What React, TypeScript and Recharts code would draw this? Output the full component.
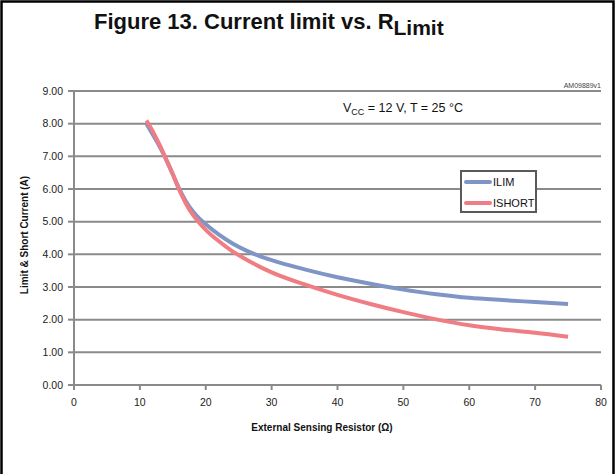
import React from 'react';
import { LineChart, Line, XAxis, YAxis, CartesianGrid } from 'recharts';

// values (x in ohm, y in A)
const resistor = [11, 12, 13, 14, 15, 16, 17, 18, 19, 20, 22, 24, 26, 28, 30, 35, 40, 45, 50, 55, 60, 65, 70, 75];
const ilim = [8.0, 7.65, 7.3, 6.9, 6.45, 6.0, 5.62, 5.33, 5.1, 4.92, 4.6, 4.34, 4.13, 3.96, 3.82, 3.54, 3.3, 3.1, 2.92, 2.78, 2.67, 2.6, 2.54, 2.48];
const ishort = [8.1, 7.75, 7.35, 6.9, 6.45, 5.96, 5.55, 5.22, 4.97, 4.75, 4.4, 4.1, 3.86, 3.64, 3.45, 3.08, 2.76, 2.48, 2.23, 2.01, 1.83, 1.7, 1.6, 1.48];
const xTicks = [0, 10, 20, 30, 40, 50, 60, 70, 80];
const yTicks = [0, 1, 2, 3, 4, 5, 6, 7, 8, 9];
const seriesNames = ['ILIM', 'ISHORT'];

const data = resistor.map((r, i) => ({ r, ILIM: ilim[i], ISHORT: ishort[i] }));

const BLUE = '#7f95c5';
const RED = '#f07d84';
const GRID = '#8a8a8a';
const FONT = '"Liberation Sans", Arial, sans-serif';
const colors = [BLUE, RED];

// little boxed legend sitting inside the plot
const LegendBox = () => (
  <div
    style={{
      position: 'absolute',
      left: 460,
      top: 170,
      width: 77,
      height: 43,
      border: '2px solid #5a5a5a',
      background: '#fff',
      fontFamily: FONT,
      fontSize: 11,
      color: '#111',
      boxSizing: 'border-box',
    }}
  >
    {seriesNames.map((name, i) => (
      <div key={name} style={{ position: 'absolute', left: 2, top: 3 + i * 21, display: 'flex', alignItems: 'center', height: 13 }}>
        <span style={{ display: 'inline-block', width: 28, height: 4, borderRadius: 2, background: colors[i] }} />
        <span style={{ marginLeft: 1 }}>{name}</span>
      </div>
    ))}
  </div>
);

export default function App() {
  return (
    <div style={{ position: 'absolute', left: 0, top: 0, width: 615, height: 474, background: '#fff' }}>
      <LineChart width={615} height={474} data={data} margin={{ top: 91, right: 14, bottom: 0, left: 0 }}>
        <CartesianGrid vertical={false} stroke={GRID} strokeWidth={2} />
        <XAxis
          dataKey="r"
          type="number"
          domain={[0, 80]}
          ticks={xTicks}
          height={89}
          stroke={GRID}
          strokeWidth={2}
          tickSize={5}
          tickMargin={9}
          tick={{ fill: '#222', fontSize: 10.5, fontFamily: FONT }}
        />
        <YAxis
          type="number"
          domain={[0, 9]}
          ticks={yTicks}
          width={74}
          stroke={GRID}
          strokeWidth={2}
          tickSize={6}
          tickMargin={5}
          tickFormatter={(v: number) => v.toFixed(2)}
          tick={{ fill: '#222', fontSize: 10.5, fontFamily: FONT }}
        />
        <Line type="monotone" dataKey="ILIM" stroke={BLUE} strokeWidth={4} dot={false} isAnimationActive={false} />
        <Line type="monotone" dataKey="ISHORT" stroke={RED} strokeWidth={4} dot={false} isAnimationActive={false} />
      </LineChart>
      <LegendBox />
      <svg width={615} height={474} style={{ position: 'absolute', left: 0, top: 0, pointerEvents: 'none' }}>
        <path d="M1.5 480 V1.5 H613.5 V480" fill="none" stroke="#000" strokeWidth={2.5} />
        <text x={94} y={29} fontFamily={FONT} fontWeight="bold" fontSize={22} fill="#111">
          Figure 13. Current limit vs. R
          <tspan fontSize={21} dy={6}>Limit</tspan>
        </text>
        <text x={601} y={88} textAnchor="end" fontFamily={FONT} fontSize={7} fill="#444">AM09889v1</text>
        <text x={343} y={112} fontFamily={FONT} fontSize={12.5} fill="#111">
          V<tspan fontSize={9} dy={3}>CC</tspan>
          <tspan dy={-3}> = 12 V, T = 25 °C</tspan>
        </text>
        <text
          x={0}
          y={0}
          transform="translate(28 235) rotate(-90)"
          textAnchor="middle"
          fontFamily={FONT}
          fontWeight="bold"
          fontSize={10}
          fill="#111"
        >
          Limit &amp; Short Current (A)
        </text>
        <text x={322} y={431} textAnchor="middle" fontFamily={FONT} fontWeight="bold" fontSize={10} fill="#111">
          External Sensing Resistor (Ω)
        </text>
      </svg>
    </div>
  );
}
